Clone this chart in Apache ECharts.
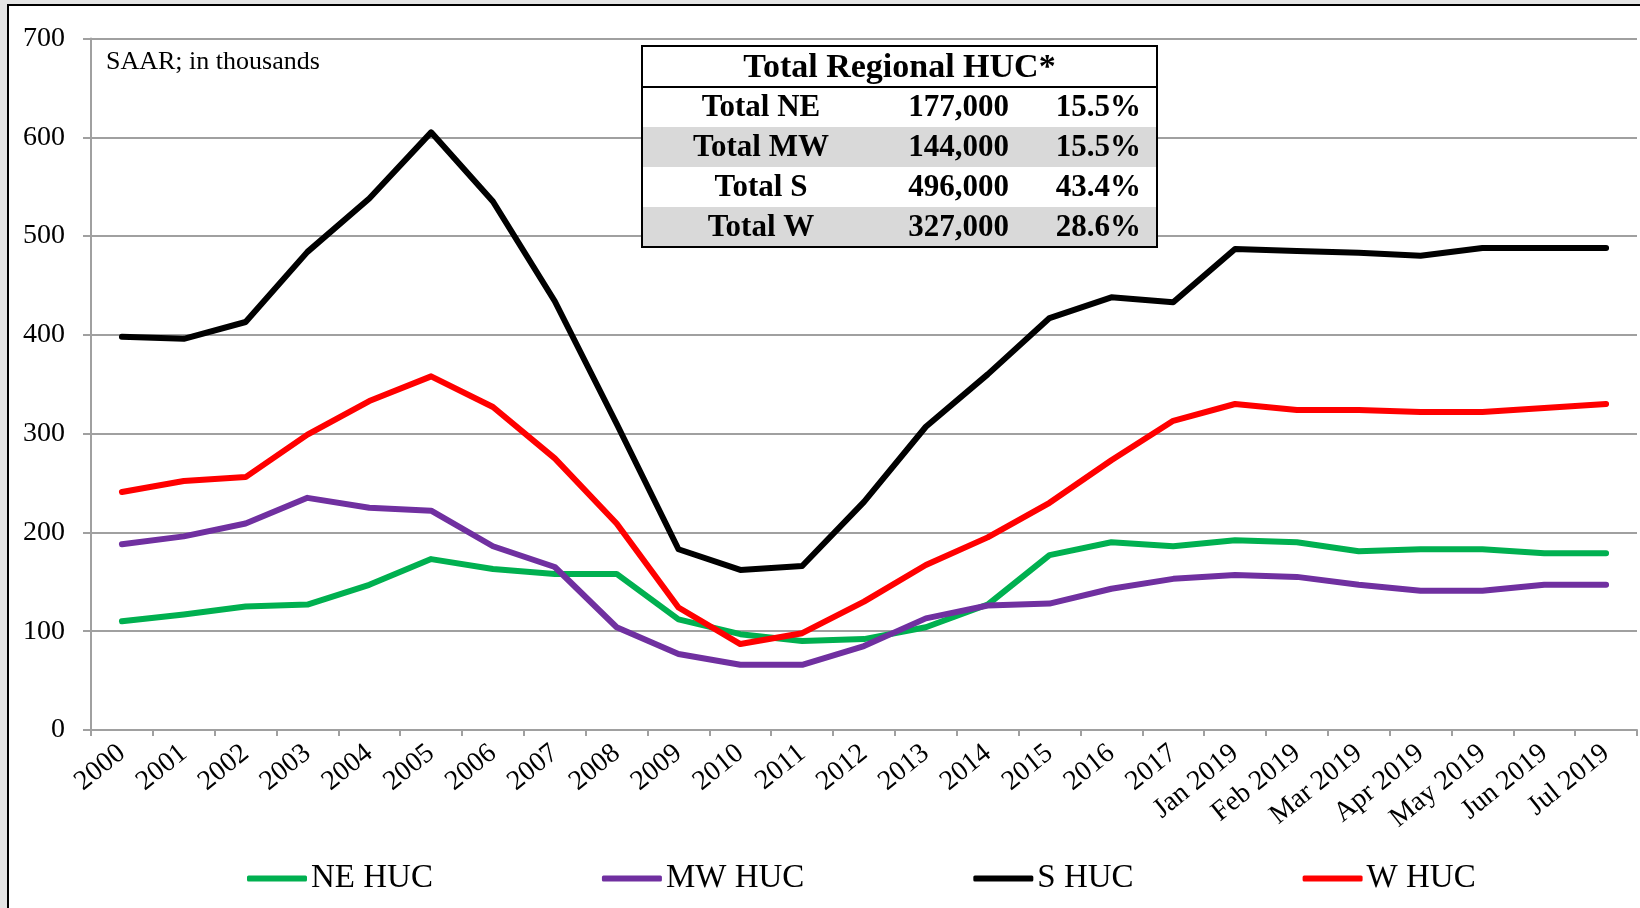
<!DOCTYPE html>
<html>
<head>
<meta charset="utf-8">
<script src="https://cdn.jsdelivr.net/npm/echarts@6/dist/echarts.min.js"></script>
<style>
  html, body { margin: 0; padding: 0; background: #e4e4e4; }
  #huc { width: 1640px; height: 908px; }
</style>
</head>
<body>
<div id="huc"></div>
<script>
// x axis categories
var categories = ['2000', '2001', '2002', '2003', '2004', '2005', '2006', '2007', '2008',
  '2009', '2010', '2011', '2012', '2013', '2014', '2015', '2016', '2017',
  'Jan 2019', 'Feb 2019', 'Mar 2019', 'Apr 2019', 'May 2019', 'Jun 2019', 'Jul 2019'];

// housing units completed by region, SAAR in thousands
var neHuc = [110, 117, 125, 127, 147, 173, 163, 158, 158, 112, 97, 90, 92, 104, 127, 177, 190, 186, 192, 190, 181, 183, 183, 179, 179];
var mwHuc = [188, 196, 209, 235, 225, 222, 186, 165, 104, 77, 66, 66, 85, 113, 126, 128, 143, 153, 157, 155, 147, 141, 141, 147, 147];
var sHuc = [398, 396, 413, 484, 538, 605, 535, 434, 310, 183, 162, 166, 231, 307, 360, 417, 438, 433, 487, 485, 483, 480, 488, 488, 488];
var wHuc = [241, 252, 256, 299, 333, 358, 327, 275, 209, 124, 87, 98, 130, 167, 195, 230, 273, 313, 330, 324, 324, 322, 322, 326, 330];

// y axis ticks
var yTicks = [0, 100, 200, 300, 400, 500, 600, 700];

// the little table in the top middle
var tableTitle = 'Total Regional HUC*';
var tableNames = ['Total NE', 'Total MW', 'Total S', 'Total W'];
var tableTotals = ['177,000', '144,000', '496,000', '327,000'];
var tableShares = ['15.5%', '15.5%', '43.4%', '28.6%'];

var serif = '"Liberation Serif", "Times New Roman", serif';
var gridGray = '#a0a0a0';

// table drawn with graphic elements
var tbl = { x: 642, y: 46, w: 515, head: 41, row: 40 };
var tableGraphic = [
  {
    type: 'rect', z: 10,
    shape: { x: tbl.x, y: tbl.y, width: tbl.w, height: tbl.head + tbl.row * 4 },
    style: { fill: '#fff', stroke: 'none' }
  }
];
tableNames.forEach(function (name, i) {
  var top = tbl.y + tbl.head + tbl.row * i;
  var mid = top + tbl.row / 2 + 1;
  if (i % 2 === 1) {
    tableGraphic.push({
      type: 'rect', z: 11,
      shape: { x: tbl.x, y: top, width: tbl.w, height: tbl.row },
      style: { fill: '#d9d9d9' }
    });
  }
  tableGraphic.push({
    type: 'text', z: 13, x: 761, y: mid,
    style: { text: name, font: 'bold 31px ' + serif, fill: '#000', align: 'center', verticalAlign: 'middle' }
  });
  tableGraphic.push({
    type: 'text', z: 13, x: 1009, y: mid,
    style: { text: tableTotals[i], font: 'bold 31px ' + serif, fill: '#000', align: 'right', verticalAlign: 'middle' }
  });
  tableGraphic.push({
    type: 'text', z: 13, x: 1141, y: mid,
    style: { text: tableShares[i], font: 'bold 31px ' + serif, fill: '#000', align: 'right', verticalAlign: 'middle' }
  });
});
tableGraphic.push({
  type: 'text', z: 13, x: tbl.x + tbl.w / 2, y: tbl.y + tbl.head / 2 + 2,
  style: { text: tableTitle, font: 'bold 34px ' + serif, fill: '#000', align: 'center', verticalAlign: 'middle' }
});
tableGraphic.push({
  type: 'line', z: 14,
  shape: { x1: tbl.x, y1: tbl.y + tbl.head, x2: tbl.x + tbl.w, y2: tbl.y + tbl.head },
  style: { stroke: '#000', lineWidth: 2 }
});
tableGraphic.push({
  type: 'rect', z: 14,
  shape: { x: tbl.x, y: tbl.y, width: tbl.w, height: tbl.head + tbl.row * 4 },
  style: { fill: 'none', stroke: '#000', lineWidth: 2 }
});

function lineSeries(name, data, color) {
  return {
    name: name,
    type: 'line',
    data: data,
    symbol: 'none',
    lineStyle: { width: 6, color: color, cap: 'round', join: 'round' },
    itemStyle: { color: color },
    emphasis: { disabled: true }
  };
}

var option = {
  backgroundColor: 'transparent',
  animation: false,
  textStyle: { fontFamily: serif, color: '#000' },
  title: {
    text: 'SAAR; in thousands',
    left: 101, top: 44,
    textStyle: { fontFamily: serif, fontSize: 26, fontWeight: 'normal', color: '#000' }
  },
  grid: { left: 91, right: 3, top: 38.5, bottom: 178 },
  legend: {
    data: ['NE HUC', 'MW HUC', 'S HUC', 'W HUC'],
    left: 242, top: 857,
    icon: 'roundRect',
    itemWidth: 60, itemHeight: 6, itemGap: 169,
    textStyle: { fontFamily: serif, fontSize: 33, color: '#000', padding: [0, 0, 0, -1] }
  },
  xAxis: {
    type: 'category',
    data: categories,
    axisLine: { lineStyle: { color: gridGray, width: 2 } },
    axisTick: { show: true, length: 6, lineStyle: { color: gridGray, width: 2 } },
    axisLabel: { rotate: 39, margin: 20, fontSize: 28, fontFamily: serif, color: '#000', interval: 0 }
  },
  yAxis: {
    type: 'value',
    min: yTicks[0], max: yTicks[yTicks.length - 1], interval: 100,
    axisLine: { show: true, lineStyle: { color: gridGray, width: 2 } },
    axisTick: { show: true, length: 8, lineStyle: { color: gridGray, width: 2 } },
    axisLabel: { margin: 26, fontSize: 28, fontFamily: serif, color: '#000' },
    splitLine: { lineStyle: { color: gridGray, width: 2 } }
  },
  graphic: [
    {
      type: 'rect', z: -10, silent: true,
      shape: { x: 8, y: 5, width: 1700, height: 1000 },
      style: { fill: '#fff', stroke: '#000', lineWidth: 2 }
    }
  ].concat(tableGraphic),
  series: [
    lineSeries('NE HUC', neHuc, '#00b050'),
    lineSeries('MW HUC', mwHuc, '#7030a0'),
    lineSeries('S HUC', sHuc, '#000000'),
    lineSeries('W HUC', wHuc, '#ff0000')
  ]
};

var myChart = echarts.init(document.getElementById('huc'));
myChart.setOption(option);
</script>
</body>
</html>
